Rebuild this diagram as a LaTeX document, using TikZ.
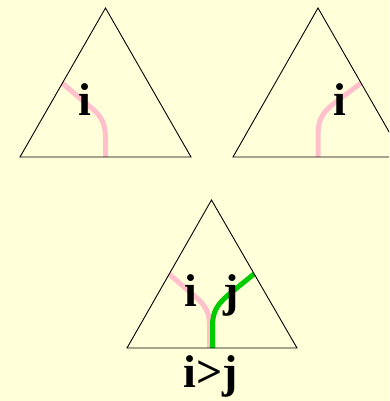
\documentclass[tikz,border=0pt]{standalone}
\usepackage{fontspec}
\setmainfont{Liberation Serif}
\definecolor{paperyellow}{RGB}{255,255,218}
\definecolor{strandpink}{RGB}{255,192,203}
\definecolor{strandgreen}{RGB}{0,204,0}
\tikzset{
  tri/.style={draw=black, line width=0.9pt, line join=miter},
  strand/.style={line width=5pt, line cap=butt},
  lbl/.style={font=\fontsize{46}{46}\selectfont\bfseries, inner sep=0pt, anchor=base}
}
\begin{document}
\begin{tikzpicture}[x=1pt, y=-1pt]
% page and background
\useasboundingbox (0,0) rectangle (389,401);
\fill[paperyellow] (0,0) rectangle (389,401);
\clip (0,0) rectangle (389,401);
% Triangle corners
\coordinate (ltop) at (105.5,8);
\coordinate (lleft) at (20,157);
\coordinate (lright) at (191,157);
\coordinate (rtop) at (318,8);
\coordinate (rleft) at (233,157);
\coordinate (rright) at (403.5,157);
\coordinate (btop) at (211.5,200);
\coordinate (bleft) at (127,348);
\coordinate (bright) at (297,348);
% Top left: strand i enters from the left side
\draw[strand, strandpink] (62,83) -- (95,111) .. controls (104,120) and (105.5,128) .. (105.5,140) -- (105.5,157);
\draw[tri] (ltop) -- (lleft) -- (lright) -- cycle;
\node[lbl] (il) at (85,115) {i};
% Top right: strand i enters from the right side
\draw[strand, strandpink] (361,83) -- (332,105) .. controls (322,113) and (318,121) .. (318,135) -- (318,157);
\draw[tri] (rtop) -- (rleft) -- (rright) -- cycle;
\node[lbl] (ir) at (339.5,115) {i};
% Bottom: both strands meet
\draw[strand, strandpink] (169,274) -- (199,300) .. controls (207,308) and (209.5,315) .. (209.5,326) -- (209.5,348);
\draw[strand, strandgreen] (254,274) -- (227,296) .. controls (217,305) and (212.5,312) .. (212.5,326) -- (212.5,348);
\draw[tri] (btop) -- (bleft) -- (bright) -- cycle;
\node[lbl] (ib) at (190.5,306) {i};
\node[lbl] (jb) at (231.5,306) {j};
\node[lbl] (order) at (211,387) {i>j};
\end{tikzpicture}
\end{document}
